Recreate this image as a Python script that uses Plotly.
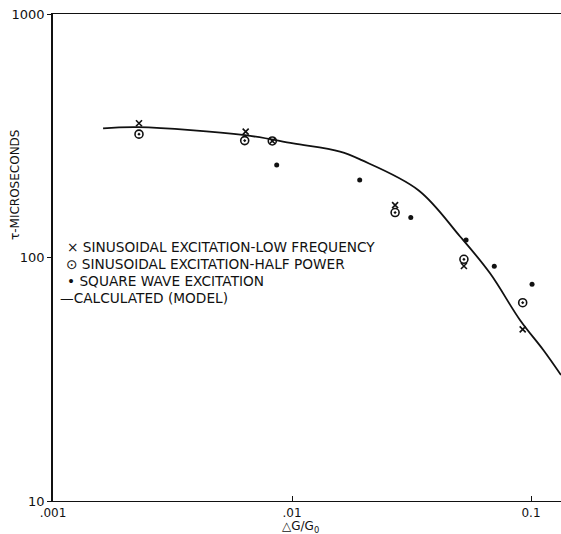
import plotly.graph_objects as go

# ---- data ----
low_freq_x = [0.00229, 0.0064, 0.00827, 0.027, 0.0524, 0.0923]
low_freq_y = [356, 329, 301, 164, 92.3, 50.7]

half_power_x = [0.00229, 0.00634, 0.00827, 0.027, 0.0524, 0.0923]
half_power_y = [321, 302, 301, 153, 98.3, 65.2]

square_x = [0.00863, 0.0192, 0.0314, 0.0535, 0.0702, 0.101]
square_y = [240, 208, 146, 118, 92, 77.6]

model_x = [0.00162, 0.00227, 0.00636, 0.01012, 0.01588, 0.01957, 0.0338, 0.0505, 0.0674, 0.0899, 0.1126, 0.1335]
model_y = [339, 343, 318, 294, 272, 251, 189, 122, 86.1, 55.4, 41.7, 32.9]

x_tick_vals = [0.001, 0.01, 0.1]
x_tick_text = [".001", ".01", "0.1"]
y_tick_vals = [10, 100, 1000]
y_tick_text = ["10", "100", "1000"]

legend_labels = [
    "× SINUSOIDAL EXCITATION-LOW FREQUENCY",
    "⊙ SINUSOIDAL EXCITATION-HALF POWER",
    "• SQUARE WAVE EXCITATION",
    "—CALCULATED (MODEL)",
]

# ---- layout geometry (body margin removed in the page) ----
W, H = 561, 534
L, R, T, B = 53, 0, 14, 534 - 501
PW, PH = W - L - R, H - T - B
INK = "#111111"
FONT = "DejaVu Sans"


def px(xp):
    return (xp - L) / PW


def py(yp):
    return (H - B - yp) / PH


fig = go.Figure()

fig.add_trace(go.Scatter(
    x=model_x, y=model_y, mode="lines",
    line=dict(color=INK, width=1.8, shape="spline", smoothing=1.0),
    showlegend=False, hoverinfo="skip"))

fig.add_trace(go.Scatter(
    x=low_freq_x, y=low_freq_y, mode="markers",
    marker=dict(symbol="x-thin-open", size=6, color=INK, line=dict(color=INK, width=1.6)),
    showlegend=False))

fig.add_trace(go.Scatter(
    x=half_power_x, y=half_power_y, mode="markers",
    marker=dict(symbol="circle-open-dot", size=8, color=INK, line=dict(color=INK, width=1.6)),
    showlegend=False))

fig.add_trace(go.Scatter(
    x=square_x, y=square_y, mode="markers",
    marker=dict(symbol="circle", size=5, color=INK),
    showlegend=False))

annotations = []
rows_y = [247, 264, 281, 298]
rows_x = [65, 64, 65, 58]
for lab, yy, xx in zip(legend_labels, rows_y, rows_x):
    annotations.append(dict(
        text=lab, xref="paper", yref="paper", x=px(xx), y=py(yy),
        xanchor="left", yanchor="middle", showarrow=False,
        font=dict(family=FONT, size=13.7, color=INK)))

annotations.append(dict(
    text="τ-MICROSECONDS", xref="paper", yref="paper", x=px(15), y=py(185),
    xanchor="center", yanchor="middle", showarrow=False, textangle=-90,
    font=dict(family=FONT, size=12, color=INK)))

annotations.append(dict(
    text="△G/G<sub>0</sub>", xref="paper", yref="paper", x=px(300), y=py(527),
    xanchor="center", yanchor="middle", showarrow=False,
    font=dict(family=FONT, size=12, color=INK)))

fig.update_layout(
    width=W, height=H,
    margin=dict(l=L, r=R, t=T, b=B),
    paper_bgcolor="white", plot_bgcolor="white",
    annotations=annotations,
    font=dict(family=FONT, size=12, color=INK),
)

fig.update_xaxes(
    type="log", range=[-3, -0.8745],
    tickvals=x_tick_vals, ticktext=x_tick_text,
    showgrid=False, zeroline=False,
    showline=True, linecolor=INK, linewidth=1.3, mirror=True,
    ticks="inside", ticklen=5, tickcolor=INK, tickwidth=1,
    tickfont=dict(family=FONT, size=12, color=INK),
    ticklabeloverflow="allow", ticklabelstandoff=0,
)
fig.update_yaxes(
    type="log", range=[1, 3],
    tickvals=y_tick_vals, ticktext=y_tick_text,
    showgrid=False, zeroline=False,
    showline=True, linecolor=INK, linewidth=1.6, mirror=False,
    ticks="outside", ticklen=4, tickcolor=INK, tickwidth=1,
    tickfont=dict(family=FONT, size=13, color=INK),
    ticklabeloverflow="allow",
)

fig.write_html(
    "out.html",
    config={"displayModeBar": False},
    post_script="document.body.style.margin='0';document.body.style.overflow='hidden';",
)
